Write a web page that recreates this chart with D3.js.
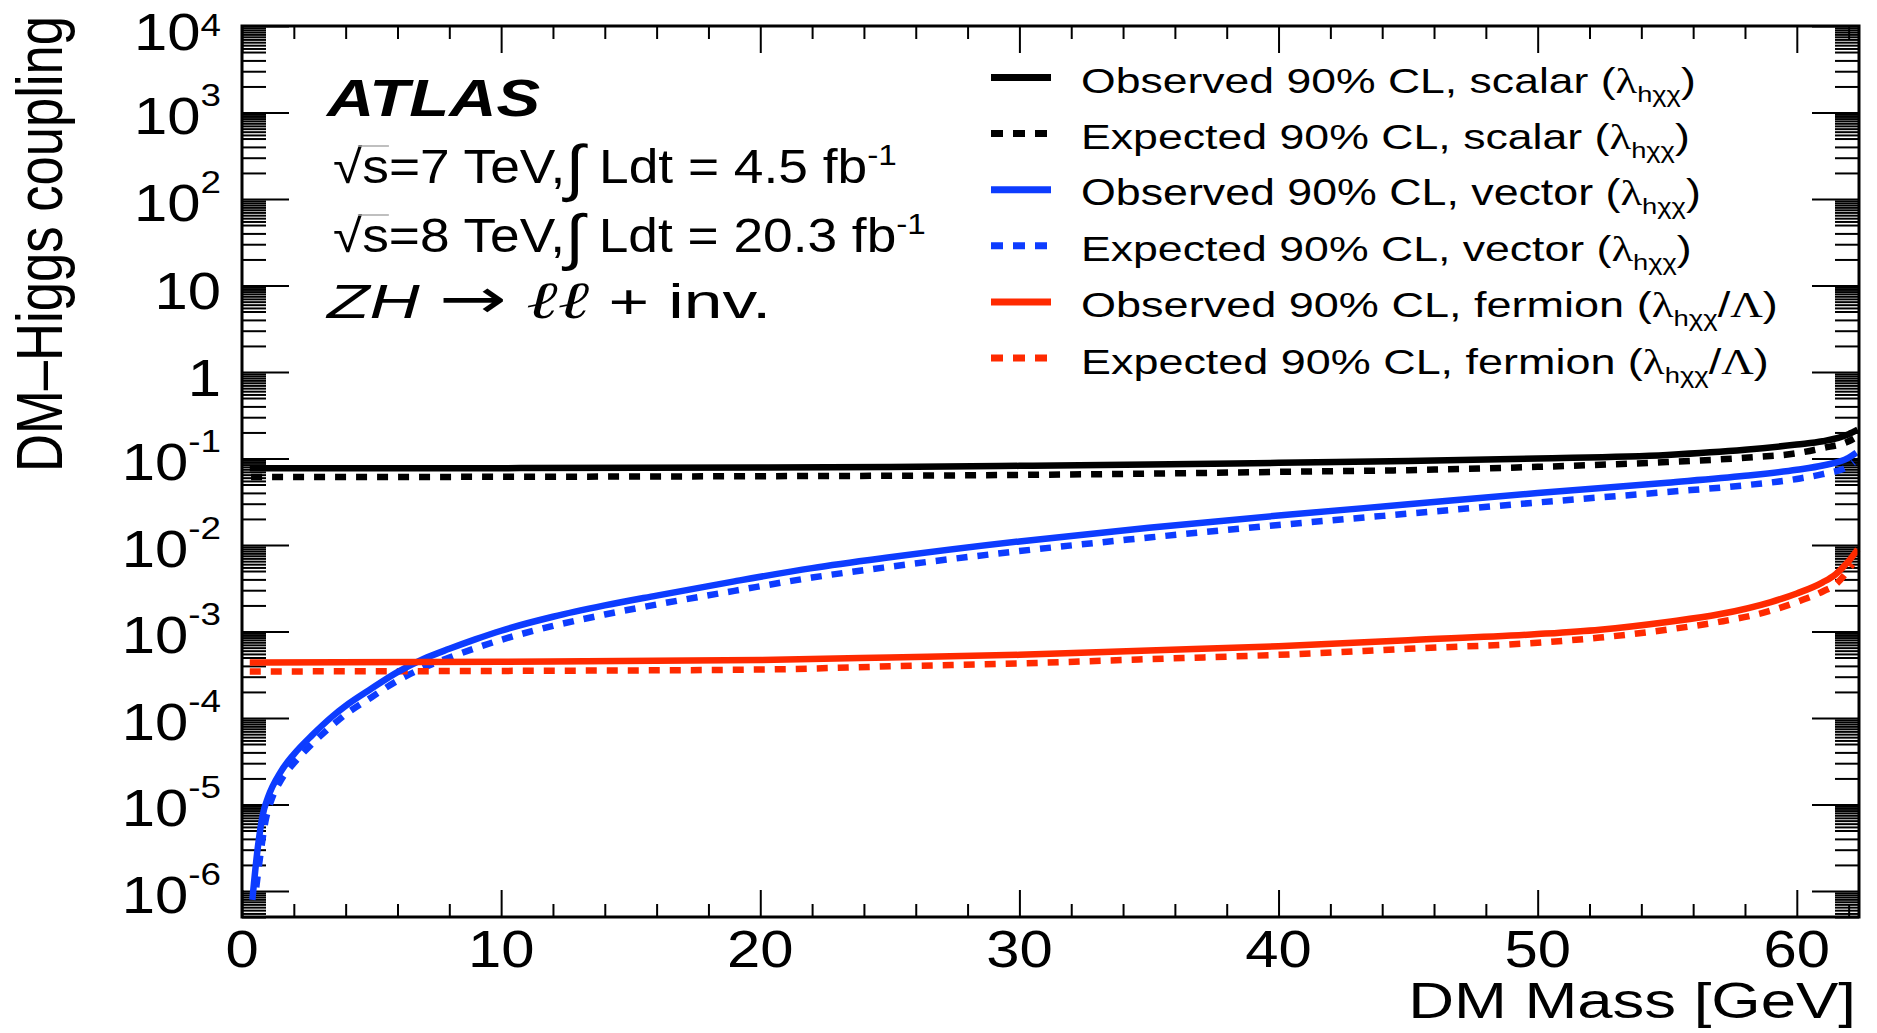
<!DOCTYPE html>
<html>
<head>
<meta charset="utf-8">
<script src="https://cdn.jsdelivr.net/npm/d3@7"></script>
<style>
  body { margin: 0; background: #fff; }
  svg { display: block; }
  text { font-family: "Liberation Sans", Arial, Helvetica, sans-serif; fill: #000; }
</style>
</head>
<body>
<div id="chart"></div>
<script>
// limits (DM mass in GeV, coupling)
const scalarObsMass = [0.3, 10, 20, 25, 30, 35, 40, 45, 50, 55, 58, 60, 61, 62, 62.35];
const scalarObs = [0.0769, 0.0773, 0.0785, 0.0798, 0.0822, 0.0851, 0.0891, 0.0933, 0.100, 0.110, 0.126, 0.145, 0.158, 0.191, 0.215];
const scalarExpMass = [0.35, 10, 20, 25, 30, 35, 40, 45, 50, 55, 58, 60, 61, 62, 62.2];
const scalarExp = [0.061, 0.0614, 0.0624, 0.0631, 0.0646, 0.0668, 0.070, 0.0733, 0.080, 0.091, 0.102, 0.115, 0.132, 0.158, 0.17];

const vectorObsMass = [0.4, 0.6, 0.8, 1.0, 1.5, 2.0, 2.7, 3.5, 4, 5, 6, 7, 8, 9, 10, 12, 14, 16, 19, 22, 25, 30, 35, 40, 45, 50, 55, 58, 60, 61, 62, 62.3];
const vectorObs = [7.9e-7, 3.0e-6, 7.6e-6, 1.2e-5, 2.4e-5, 3.8e-5, 6.3e-5, 1.05e-4, 1.38e-4, 2.19e-4, 3.39e-4, 4.8e-4, 6.3e-4, 8.1e-4, 1.02e-3, 1.48e-3, 2.0e-3, 2.6e-3, 3.8e-3, 5.4e-3, 7.2e-3, 0.011, 0.0158, 0.0219, 0.0295, 0.0398, 0.0525, 0.063, 0.074, 0.083, 0.102, 0.117];
const vectorExpMass = [0.55, 0.7, 0.9, 1.1, 1.5, 2, 2.7, 3.5, 4, 5, 6, 7, 8, 9, 10, 12, 14, 16, 19, 22, 25, 30, 35, 40, 45, 50, 55, 58, 60, 61, 62, 62.2];
const vectorExp = [1.1e-6, 2.5e-6, 6.3e-6, 1.05e-5, 1.9e-5, 3.0e-5, 5.0e-5, 8.3e-5, 1.1e-4, 1.74e-4, 2.7e-4, 3.8e-4, 5.0e-4, 6.4e-4, 8.0e-4, 1.16e-3, 1.57e-3, 2.05e-3, 2.95e-3, 4.2e-3, 5.6e-3, 8.5e-3, 0.0122, 0.017, 0.023, 0.031, 0.041, 0.049, 0.058, 0.066, 0.081, 0.09];

const fermionObsMass = [0.3, 10, 20, 25, 30, 35, 40, 45, 50, 52.4, 55, 57, 59, 60, 61, 61.5, 62, 62.35];
const fermionObs = [4.39e-4, 4.47e-4, 4.68e-4, 5.0e-4, 5.37e-4, 6.03e-4, 6.76e-4, 7.94e-4, 9.33e-4, 1.05e-3, 1.29e-3, 1.58e-3, 2.19e-3, 2.75e-3, 3.7e-3, 4.6e-3, 6.5e-3, 8.9e-3];
const fermionExpMass = [0.3, 10, 20, 25, 30, 35, 40, 45, 50, 52.4, 55, 57, 59, 60, 61, 61.5, 62, 62.15];
const fermionExp = [3.45e-4, 3.5e-4, 3.63e-4, 3.95e-4, 4.27e-4, 4.79e-4, 5.37e-4, 6.31e-4, 7.41e-4, 8.5e-4, 1.05e-3, 1.29e-3, 1.74e-3, 2.19e-3, 2.9e-3, 3.5e-3, 5.2e-3, 6.0e-3];

const xMajorTicks = [0, 10, 20, 30, 40, 50, 60];
const yExponents = [-6, -5, -4, -3, -2, -1, 0, 1, 2, 3, 4];
const legendText = ["Observed 90% CL, scalar", "Expected 90% CL, scalar", "Observed 90% CL, vector",
                    "Expected 90% CL, vector", "Observed 90% CL, fermion", "Expected 90% CL, fermion"];

const W = 1877, H = 1033;
const box = {left: 242, right: 1859, top: 26, bottom: 917};
const blue = "#0d3cff", red = "#ff2a00";

const svg = d3.select("#chart").append("svg").attr("width", W).attr("height", H);

const x = d3.scaleLinear().domain([0, 62.4]).range([box.left, box.right]);
const y = d3.scaleLog().domain([5e-7, 1e4]).range([box.bottom, box.top]);

// tick positions
const xMinor = d3.range(2, 63, 2).filter(v => v % 10 !== 0);
const yMajor = yExponents.map(e => Math.pow(10, e));
const yMinor = [];
for (let e = -7; e < 4; e++) {
   [2, 3, 4, 5, 5.5, 6, 6.5, 7, 7.5, 8, 8.5, 9, 9.5].forEach(k => {
      const v = k * Math.pow(10, e);
      if (v >= 5e-7 && v < 1e4) yMinor.push(v);
   });
}

function tickAxis(axis, tx, ty) {
   const g = svg.append("g").attr("transform", "translate(" + tx + "," + ty + ")").call(axis);
   g.select(".domain").remove();
   g.selectAll("line").attr("stroke", "#000").attr("stroke-width", 2);
   return g;
}
tickAxis(d3.axisBottom(x).tickValues(xMajorTicks).tickSize(-27).tickFormat(""), 0, box.bottom);
tickAxis(d3.axisBottom(x).tickValues(xMinor).tickSize(-13).tickFormat(""), 0, box.bottom);
tickAxis(d3.axisTop(x).tickValues(xMajorTicks).tickSize(-27).tickFormat(""), 0, box.top);
tickAxis(d3.axisTop(x).tickValues(xMinor).tickSize(-13).tickFormat(""), 0, box.top);
tickAxis(d3.axisLeft(y).tickValues(yMajor).tickSize(-47).tickFormat(""), box.left, 0);
tickAxis(d3.axisLeft(y).tickValues(yMinor).tickSize(-24).tickFormat(""), box.left, 0);
tickAxis(d3.axisRight(y).tickValues(yMajor).tickSize(-47).tickFormat(""), box.right, 0);
tickAxis(d3.axisRight(y).tickValues(yMinor).tickSize(-24).tickFormat(""), box.right, 0);

// curves
const series = [
   {m: scalarObsMass, v: scalarObs, color: "#000", dash: null},
   {m: scalarExpMass, v: scalarExp, color: "#000", dash: "11,10"},
   {m: vectorObsMass, v: vectorObs, color: blue, dash: null},
   {m: vectorExpMass, v: vectorExp, color: blue, dash: "11,10"},
   {m: fermionObsMass, v: fermionObs, color: red, dash: null},
   {m: fermionExpMass, v: fermionExp, color: red, dash: "11,10"}
];
const line = d3.line().x(d => x(d[0])).y(d => y(d[1])).curve(d3.curveMonotoneX);
// dashed first so the solid lines sit on top
[1, 3, 5, 0, 2, 4].forEach(i => {
   const s = series[i];
   svg.append("path")
      .datum(s.m.map((mm, j) => [mm, s.v[j]]))
      .attr("d", line)
      .attr("fill", "none")
      .attr("stroke", s.color)
      .attr("stroke-width", 6.5)
      .attr("stroke-dasharray", s.dash);
});

// frame
svg.append("rect")
   .attr("x", box.left).attr("y", box.top)
   .attr("width", box.right - box.left).attr("height", box.bottom - box.top)
   .attr("fill", "none").attr("stroke", "#000").attr("stroke-width", 3);

// tick labels
const labelScale = 1.15;
xMajorTicks.forEach(v => {
   svg.append("text")
      .attr("transform", "translate(" + x(v) + ",967) scale(" + labelScale + ",1)")
      .attr("text-anchor", "middle")
      .attr("font-size", 52)
      .text(v);
});
yExponents.forEach(e => {
   const ty = y(Math.pow(10, e));
   const t = svg.append("text")
      .attr("text-anchor", "end")
      .attr("font-size", 52);
   if (e === 0 || e === 1) {
      t.attr("transform", "translate(221," + (ty + 24) + ") scale(" + labelScale + ",1)")
         .text(e === 0 ? "1" : "10");
   } else {
      // the top label is pushed down to stay inside the picture
      const top = e === 4;
      t.attr("transform", "translate(221," + (ty + (top ? 24 : 22)) + ") scale(" + labelScale + ",1)");
      t.append("tspan").text("10");
      t.append("tspan").attr("font-size", 32).attr("dy", top ? -14 : -28).text(e);
   }
});

// stretch a group horizontally to the width seen in the reference
function fit(g, node, tx, ty, w, rot) {
   const bw = node.getBBox().width;
   g.attr("transform", "translate(" + tx + "," + ty + ")" + (rot || "") + " scale(" + (w / bw) + ",1)");
}

// axis titles
let g = svg.append("g");
const xTitle = g.append("text").attr("text-anchor", "end").attr("font-size", 50).text("DM Mass [GeV]");
fit(g, xTitle.node(), 1856, 1018, 448);
g = svg.append("g");
const yTitle = g.append("text").attr("text-anchor", "end").attr("font-size", 64).text("DM\u2013Higgs coupling");
fit(g, yTitle.node(), 62, 16, 456, " rotate(-90)");

// ATLAS label block
g = svg.append("g");
const atlas = g.append("text").attr("font-size", 52).attr("font-weight", "bold").attr("font-style", "italic").text("ATLAS");
fit(g, atlas.node(), 327, 116, 216);

function lumiLine(energy, lumi, ty, w) {
   const lg = svg.append("g");
   const t = lg.append("text").attr("font-size", 48);
   t.append("tspan").text("\u221As=" + energy + " TeV,");
   t.append("tspan").attr("font-size", 62).attr("dy", 6).text("\u222B");
   t.append("tspan").attr("dy", -6).text(" Ldt = " + lumi + " fb");
   t.append("tspan").attr("font-size", 30).attr("dy", -18).text("-1");
   // thin bar over the s of the square root
   const n = t.node();
   const rootW = n.getSubStringLength(0, 1), sW = n.getSubStringLength(1, 1);
   lg.append("line")
      .attr("x1", rootW * 0.85).attr("x2", rootW + sW)
      .attr("y1", -37).attr("y2", -37)
      .attr("stroke", "#aaa").attr("stroke-width", 1.5);
   fit(lg, n, 333, ty, w);
}
lumiLine(7, "4.5", 183, 564);
lumiLine(8, "20.3", 252, 593);

g = svg.append("g");
const proc = g.append("text").attr("font-size", 48);
proc.append("tspan").attr("font-style", "italic").text("ZH ");
proc.append("tspan").attr("font-family", "'DejaVu Sans', sans-serif").attr("font-size", 56).text("\u2192");
proc.append("tspan").text(" ");
proc.append("tspan").attr("font-family", "'Liberation Serif', serif").attr("font-style", "italic").attr("font-size", 52).text("\u2113\u2113");
proc.append("tspan").text(" + inv.");
fit(g, proc.node(), 327, 318, 446);

// legend
const legendWidths = [615, 609, 620, 611, 697, 688];
series.forEach((s, i) => {
   const base = 93 + i * 56.1;
   svg.append("line")
      .attr("x1", 991).attr("x2", s.dash ? 1047 : 1051)
      .attr("y1", base - 15.5).attr("y2", base - 15.5)
      .attr("stroke", s.color).attr("stroke-width", 7)
      .attr("stroke-dasharray", s.dash ? "12,10" : null);
   const lg = svg.append("g");
   const t = lg.append("text").attr("font-size", 36);
   t.append("tspan").text(legendText[i] + " (");
   t.append("tspan").attr("font-family", "'Liberation Serif', serif").text("\u03BB");
   t.append("tspan").attr("font-size", 22).attr("dy", 9).text("h\u03C7\u03C7");
   if (i >= 4) {
      t.append("tspan").attr("dy", -9).text("/");
      t.append("tspan").attr("font-family", "'Liberation Serif', serif").text("\u039B");
      t.append("tspan").text(")");
   } else {
      t.append("tspan").attr("dy", -9).text(")");
   }
   fit(lg, t.node(), 1081, base, legendWidths[i]);
});
</script>
</body>
</html>
